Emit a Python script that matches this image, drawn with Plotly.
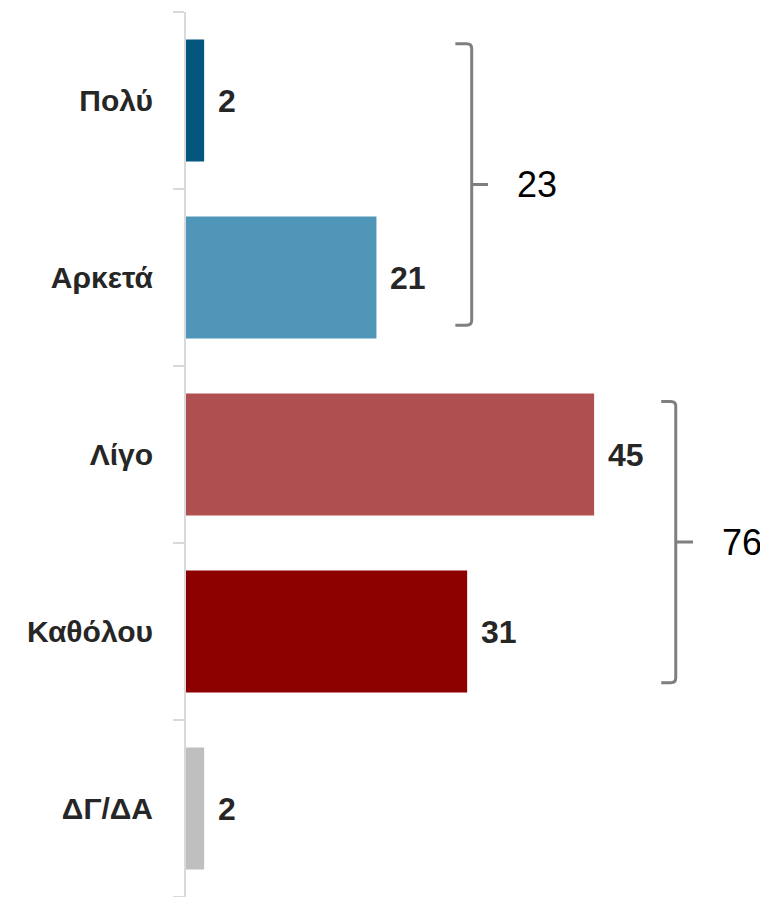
import plotly.graph_objects as go

categories = ["Πολύ", "Αρκετά", "Λίγο", "Καθόλου", "ΔΓ/ΔΑ"]
values = [2, 21, 45, 31, 2]
colors = ["#03577f", "#4f96b8", "#b04f4f", "#8c0000", "#bfbfbf"]

group_totals = ["23", "76"]
# bracket geometry in data units: (x_serif, x_vertical, x_nub, y_top, y_mid, y_bot, x_label)
brackets = [
    (29.7, 31.5, 33.3, -0.32, 0.475, 1.27, 38.7),
    (52.4, 54.0, 55.9, 1.70, 2.495, 3.29, 61.3),
]

fig = go.Figure()
fig.add_trace(go.Bar(
    x=values, y=categories, orientation="h",
    marker=dict(color=colors, line=dict(width=0)),
    width=0.69, hoverinfo="skip",
))

for v, c in zip(values, categories):
    fig.add_annotation(
        x=v, y=c, xref="x", yref="y", text=f"<b>{v}</b>", showarrow=False,
        xanchor="left", yanchor="middle", xshift=12,
        font=dict(family="Liberation Sans Narrow, Liberation Sans, Arial", size=32, color="#262626"),
    )

rx, ry = 0.55, 0.028
for (xs, xv, xn, yt, ym, yb, xl), lab in zip(brackets, group_totals):
    path = (f"M {xs},{yt} L {xv-rx},{yt} Q {xv},{yt} {xv},{yt+ry} "
            f"L {xv},{yb-ry} Q {xv},{yb} {xv-rx},{yb} L {xs},{yb} "
            f"M {xv},{ym} L {xn},{ym}")
    fig.add_shape(type="path", path=path, xref="x", yref="y",
                  line=dict(color="#7f7f7f", width=3))
    fig.add_annotation(
        x=xl, y=ym, xref="x", yref="y", text=lab, showarrow=False,
        xanchor="center", yanchor="middle",
        font=dict(family="Liberation Sans, Arial", size=36, color="#000000"),
    )

fig.update_layout(
    width=760, height=889,
    margin=dict(l=178, r=0, t=4, b=0),
    paper_bgcolor="white", plot_bgcolor="white",
    showlegend=False,
    xaxis=dict(range=[0, 64.17], visible=False, fixedrange=True),
    yaxis=dict(
        type="category", categoryorder="array", categoryarray=categories,
        autorange="reversed",
        showline=True, linecolor="#d9d9d9", linewidth=2,
        ticks="outside", tickson="boundaries", ticklen=11, tickcolor="#d9d9d9", tickwidth=2,
        showgrid=False, zeroline=False,
        tickfont=dict(family="Liberation Sans, Arial", size=30, color="#262626"),
        ticklabelstandoff=25,
    ),
)
fig.update_yaxes(ticktext=[f"<b>{c}</b>" for c in categories], tickvals=categories)

fig.write_html("out.html")
